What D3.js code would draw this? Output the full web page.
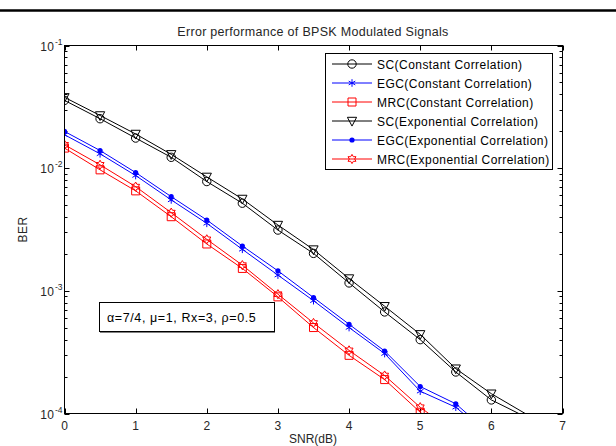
<!DOCTYPE html>
<html>
<head>
<meta charset="utf-8">
<script src="https://cdn.jsdelivr.net/npm/d3@7"></script>
<style>
  html, body { margin: 0; padding: 0; background: #fff; }
  svg { display: block; font-family: "Liberation Sans", Arial, sans-serif; }
</style>
</head>
<body>
<svg id="chart" width="616" height="446"></svg>
<script>
// SNR points (dB)
const snr = [0, 0.5, 1, 1.5, 2, 2.5, 3, 3.5, 4, 4.5, 5, 5.5, 6, 6.5];

// BER per combining scheme / correlation model
const scConst  = [0.0357, 0.0253, 0.0176, 0.01226, 0.00778, 0.00518, 0.00313, 0.00202, 0.00116, 0.000673, 0.000400, 0.000218, 0.000129, 0.0000927];
const egcConst = [0.01873, 0.01309, 0.00871, 0.00551, 0.00355, 0.00218, 0.001343, 0.000831, 0.000502, 0.000308, 0.000152, 0.0001125, 0.0000640];
const mrcConst = [0.01458, 0.00969, 0.00653, 0.00402, 0.00241, 0.001523, 0.000893, 0.000502, 0.000298, 0.000189, 0.0001024, 0.0000601];
const scExp    = [0.0378, 0.0269, 0.0190, 0.01297, 0.00849, 0.00561, 0.00344, 0.00217, 0.00126, 0.000749, 0.000442, 0.000232, 0.000145, 0.0000981];
const egcExp   = [0.01993, 0.01393, 0.00921, 0.00586, 0.00378, 0.00232, 0.001456, 0.000882, 0.000534, 0.000323, 0.000166, 0.000120, 0.0000668];
const mrcExp   = [0.01551, 0.01065, 0.00707, 0.00434, 0.00263, 0.00162, 0.000939, 0.000547, 0.000327, 0.000204, 0.0001125, 0.0000686];

const seriesNames = [
  "SC(Constant Correlation)",
  "EGC(Constant Correlation)",
  "MRC(Constant Correlation)",
  "SC(Exponential Correlation)",
  "EGC(Exponential Correlation)",
  "MRC(Exponential Correlation)"
];
const seriesValues = [scConst, egcConst, mrcConst, scExp, egcExp, mrcExp];
const seriesColors = ["#000000", "#0000ff", "#ff0000", "#000000", "#0000ff", "#ff0000"];
const seriesMarkers = ["circle", "asterisk", "square", "triangleDown", "dot", "hexagram"];

const xTicks = [0, 1, 2, 3, 4, 5, 6, 7];
const yTickExps = [-1, -2, -3, -4];

const titleText = "Error performance of BPSK Modulated Signals";
const xLabel = "SNR(dB)";
const yLabel = "BER";
const noteText = "\u03b1=7/4, \u03bc=1, Rx=3, \u03c1=0.5";

// ---- layout ----
const plot = { left: 64.5, right: 562.5, top: 45.5, bottom: 413.5 };

const svg = d3.select("#chart");

const x = d3.scaleLinear().domain([0, 7]).range([plot.left, plot.right]);
const y = d3.scaleLog().domain([1e-4, 1e-1]).range([plot.bottom, plot.top]);

// rule across the top of the page
svg.append("line")
  .attr("x1", 0).attr("x2", 616)
  .attr("y1", 10.5).attr("y2", 10.5)
  .attr("stroke", "#000").attr("stroke-width", 2.5);

svg.append("defs").append("clipPath").attr("id", "plotClip")
  .append("rect")
  .attr("x", plot.left).attr("y", plot.top)
  .attr("width", plot.right - plot.left)
  .attr("height", plot.bottom - plot.top);

// ---- ticks (inside, both sides) ----
const tickG = svg.append("g").attr("stroke", "#000").attr("stroke-width", 1);
const majorLen = 5, minorLen = 3;

xTicks.forEach(t => {
  const px = Math.round(x(t)) + 0.5;
  tickG.append("line").attr("x1", px).attr("x2", px).attr("y1", plot.bottom).attr("y2", plot.bottom - majorLen);
  tickG.append("line").attr("x1", px).attr("x2", px).attr("y1", plot.top).attr("y2", plot.top + majorLen);
});

const logTicks = y.ticks();
logTicks.forEach(v => {
  const py = Math.round(y(v)) + 0.5;
  const e = Math.log10(v);
  const major = Math.abs(e - Math.round(e)) < 1e-9;
  const len = major ? majorLen : minorLen;
  tickG.append("line").attr("x1", plot.left).attr("x2", plot.left + len).attr("y1", py).attr("y2", py);
  tickG.append("line").attr("x1", plot.right).attr("x2", plot.right - len).attr("y1", py).attr("y2", py);
});

// ---- data lines ----
const dataG = svg.append("g").attr("clip-path", "url(#plotClip)");
const line = d3.line().x(d => x(d[0])).y(d => y(d[1]));

function markerPath(type, r) {
  switch (type) {
    case "circle":
      return d3.symbol().type(d3.symbolCircle).size(Math.PI * r * r)();
    case "square":
      return `M${-r},${-r}H${r}V${r}H${-r}Z`;
    case "triangleDown": {
      const h = r * 1.1;
      return `M${-r * 1.1},${-h * 0.8}L${r * 1.1},${-h * 0.8}L0,${h * 1.1}Z`;
    }
    case "asterisk": {
      const a = r, c = r * Math.cos(Math.PI / 6), s = r * Math.sin(Math.PI / 6);
      return `M0,${-a}V${a}M${-c},${-s}L${c},${s}M${-c},${s}L${c},${-s}`;
    }
    case "hexagram": {
      const p = [];
      for (let k = 0; k < 12; k++) {
        const ang = -Math.PI / 2 + k * Math.PI / 6;
        const rr = k % 2 === 0 ? r : r * 0.58;
        p.push([rr * Math.cos(ang), rr * Math.sin(ang)]);
      }
      return "M" + p.map(q => q.join(",")).join("L") + "Z";
    }
    default:
      return "";
  }
}

function drawMarker(g, type, color, px, py) {
  if (type === "dot") {
    g.append("circle").attr("cx", px).attr("cy", py).attr("r", 2.6)
      .attr("fill", color).attr("stroke", "none");
    return;
  }
  const sizes = { circle: 4.2, square: 4, triangleDown: 4.2, asterisk: 3.8, hexagram: 4.6 };
  g.append("path")
    .attr("d", markerPath(type, sizes[type]))
    .attr("transform", `translate(${px},${py})`)
    .attr("fill", "none")
    .attr("stroke", color)
    .attr("stroke-width", 1);
}

seriesValues.forEach((vals, i) => {
  const pts = vals.map((v, k) => [snr[k], v]);
  dataG.append("path")
    .datum(pts)
    .attr("d", line)
    .attr("fill", "none")
    .attr("stroke", seriesColors[i])
    .attr("stroke-width", 1);
  pts.forEach(p => {
    if (p[1] >= 1e-4) drawMarker(dataG, seriesMarkers[i], seriesColors[i], x(p[0]), y(p[1]));
  });
});

// ---- axes box ----
svg.append("rect")
  .attr("x", plot.left).attr("y", plot.top)
  .attr("width", plot.right - plot.left).attr("height", plot.bottom - plot.top)
  .attr("fill", "none").attr("stroke", "#000").attr("stroke-width", 1);

// ---- tick labels ----
const labelG = svg.append("g").attr("fill", "#262626").attr("font-size", 12);
xTicks.forEach(t => {
  labelG.append("text")
    .attr("x", x(t)).attr("y", plot.bottom + 16)
    .attr("text-anchor", "middle")
    .text(t);
});
yTickExps.forEach(e => {
  const py = y(Math.pow(10, e));
  labelG.append("text")
    .attr("x", 54.5).attr("y", py + 5)
    .attr("text-anchor", "end")
    .attr("letter-spacing", 0.5)
    .text("10");
  labelG.append("text")
    .attr("x", 55).attr("y", py - 1)
    .attr("font-size", 8.5)
    .text(e);
});

// ---- title and axis labels ----
svg.append("text")
  .attr("x", 313).attr("y", 35.5)
  .attr("text-anchor", "middle").attr("font-size", 12.5).attr("fill", "#262626")
  .attr("letter-spacing", 0.3)
  .text(titleText);

svg.append("text")
  .attr("x", 313).attr("y", 443)
  .attr("text-anchor", "middle").attr("font-size", 12).attr("fill", "#262626")
  .text(xLabel);

svg.append("text")
  .attr("transform", `translate(27,${(plot.top + plot.bottom) / 2}) rotate(-90)`)
  .attr("text-anchor", "middle").attr("font-size", 12).attr("fill", "#262626")
  .attr("letter-spacing", 0.5)
  .text(yLabel);

// ---- legend ----
const legend = { x: 325.5, y: 53.5, w: 227, h: 116, rowH: 19, first: 64 };
const legG = svg.append("g");
legG.append("rect")
  .attr("x", legend.x).attr("y", legend.y)
  .attr("width", legend.w).attr("height", legend.h)
  .attr("fill", "#fff").attr("stroke", "#000").attr("stroke-width", 1);

seriesNames.forEach((name, i) => {
  const ry = legend.first + i * legend.rowH;
  legG.append("line")
    .attr("x1", 332).attr("x2", 372).attr("y1", ry).attr("y2", ry)
    .attr("stroke", seriesColors[i]).attr("stroke-width", 1);
  drawMarker(legG, seriesMarkers[i], seriesColors[i], 352, ry);
  legG.append("text")
    .attr("x", 377).attr("y", ry + 4.5)
    .attr("font-size", 12).attr("fill", "#000")
    .attr("letter-spacing", 0.45)
    .text(name);
});

// ---- parameter note ----
const noteG = svg.append("g");
noteG.append("rect")
  .attr("x", 99.5).attr("y", 302.5).attr("width", 175).attr("height", 29)
  .attr("fill", "#fff").attr("stroke", "#000").attr("stroke-width", 1);
noteG.append("line")
  .attr("x1", 100).attr("x2", 275).attr("y1", 332.5).attr("y2", 332.5)
  .attr("stroke", "#808080").attr("stroke-width", 1);
noteG.append("text")
  .attr("x", 107).attr("y", 321.5)
  .attr("font-size", 12.5).attr("fill", "#000")
  .attr("letter-spacing", 0.6)
  .text(noteText);
</script>
</body>
</html>
